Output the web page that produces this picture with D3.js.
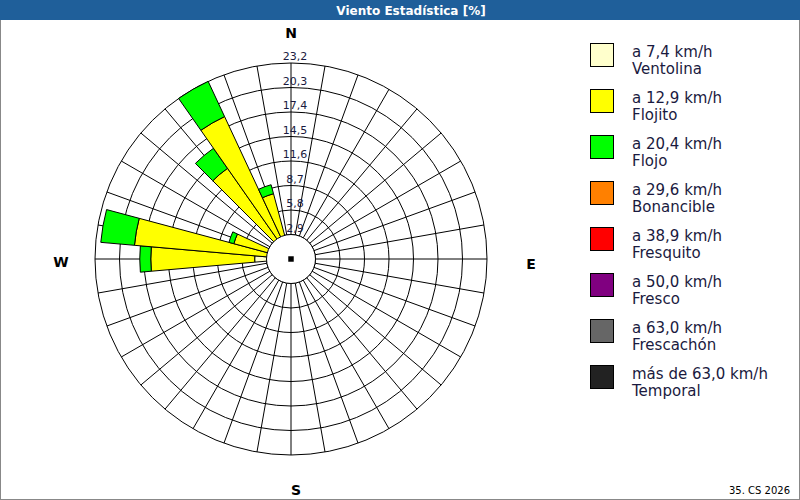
<!DOCTYPE html>
<html><head><meta charset="utf-8">
<script src="https://cdn.jsdelivr.net/npm/d3@7"></script>
<style>body{margin:0;background:#fff;font-family:Tahoma,"DejaVu Sans",sans-serif}</style>
</head><body><div id="chart"></div>
<script>
// rosa de vientos: direcciones (grados) y % acumulado por clase
const directions = [270, 280, 290, 320, 330, 340];
const ventolina  = [4.3, 2.0, 1.0, 1.0, 1.0, 1.0];
const flojito    = [12.3, 16.6, 6.0, 12.1, 17.6, 7.0];
const flojo      = [1.3, 4.0, 0.6, 2.9, 4.6, 1.1];
const ringLabels = ["2,9", "5,8", "8,7", "11,6", "14,5", "17,4", "20,3", "23,2"];
const ringValues = [2.9, 5.8, 8.7, 11.6, 14.5, 17.4, 20.3, 23.2];
const classes = [
  ["a 7,4 km/h", "Ventolina", "#ffffcc"],
  ["a 12,9 km/h", "Flojito", "#ffff00"],
  ["a 20,4 km/h", "Flojo", "#00ff00"],
  ["a 29,6 km/h", "Bonancible", "#ff8000"],
  ["a 38,9 km/h", "Fresquito", "#ff0000"],
  ["a 50,0 km/h", "Fresco", "#800080"],
  ["a 63,0 km/h", "Frescachón", "#666666"],
  ["más de 63,0 km/h", "Temporal", "#222222"]
];

const W = 800, H = 500, cx = 291, cy = 259;
const svg = d3.select("#chart").append("svg").attr("width", W).attr("height", H);

svg.append("rect").attr("x", 0.5).attr("y", 0.5).attr("width", W - 1).attr("height", H - 1)
  .attr("fill", "#fff").attr("stroke", "#888");
svg.append("rect").attr("width", W).attr("height", 20).attr("fill", "#1f5f9a");
svg.append("text").attr("x", 411).attr("y", 14.5).attr("text-anchor", "middle")
  .attr("fill", "#fff").attr("font-size", 12).attr("font-weight", "bold").text("Viento Estadística [%]");

const r = d3.scaleLinear().domain([0, 23.2]).range([0, 196]);
const g = svg.append("g").attr("transform", `translate(${cx},${cy})`);

// radios cada 10 grados
d3.range(0, 360, 10).forEach(a => {
  const t = a * Math.PI / 180;
  g.append("line")
    .attr("x1", r(2.9) * Math.sin(t)).attr("y1", -r(2.9) * Math.cos(t))
    .attr("x2", r(23.2) * Math.sin(t)).attr("y2", -r(23.2) * Math.cos(t))
    .attr("stroke", "#000").attr("stroke-width", 1);
});
ringValues.forEach(v => {
  g.append("circle").attr("r", r(v)).attr("fill", "none").attr("stroke", "#000");
});

// petalos apilados
const arc = d3.arc();
const layers = [[ventolina, "#ffffcc"], [flojito, "#ffff00"], [flojo, "#00ff00"]];
directions.forEach((d, i) => {
  let base = 0;
  layers.forEach(([vals, col]) => {
    const top = base + vals[i];
    g.append("path")
      .attr("d", arc({innerRadius: r(base), outerRadius: r(top),
        startAngle: (d - 5) * Math.PI / 180, endAngle: (d + 5) * Math.PI / 180}))
      .attr("fill", col).attr("stroke", "#000").attr("stroke-width", 1);
    base = top;
  });
});

// circulo de calmas
g.append("circle").attr("r", r(2.9)).attr("fill", "#fff").attr("stroke", "#000");
g.append("path").attr("d", d3.symbol(d3.symbolSquare, 30)()).attr("fill", "#000");

ringLabels.forEach((t, i) => {
  g.append("text").attr("x", 4).attr("y", -r(ringValues[i]) - 3).attr("text-anchor", "middle")
    .attr("font-size", 11).attr("fill", "#1a1a40").text(t);
});

const card = [["N", 0, -221], ["S", 5, 236], ["W", -230, 8], ["E", 240, 10]];
card.forEach(([t, x, y]) => {
  g.append("text").attr("x", x).attr("y", y).attr("text-anchor", "middle")
    .attr("font-size", 14).attr("font-weight", "bold").text(t);
});

// leyenda
const leg = svg.append("g").attr("transform", "translate(590,43)");
classes.forEach((c, i) => {
  const row = leg.append("g").attr("transform", `translate(0,${i * 46})`);
  row.append("rect").attr("x", 0.5).attr("y", 0.5).attr("width", 23).attr("height", 23)
    .attr("fill", c[2]).attr("stroke", "#000");
  row.append("text").attr("x", 42).attr("y", 14).attr("font-size", 15).attr("fill", "#1a1a40").text(c[0]);
  row.append("text").attr("x", 42).attr("y", 31).attr("font-size", 15).attr("fill", "#1a1a40").text(c[1]);
});

svg.append("text").attr("x", 790).attr("y", 494).attr("text-anchor", "end")
  .attr("font-size", 10).text("35. CS 2026");
</script></body></html>
